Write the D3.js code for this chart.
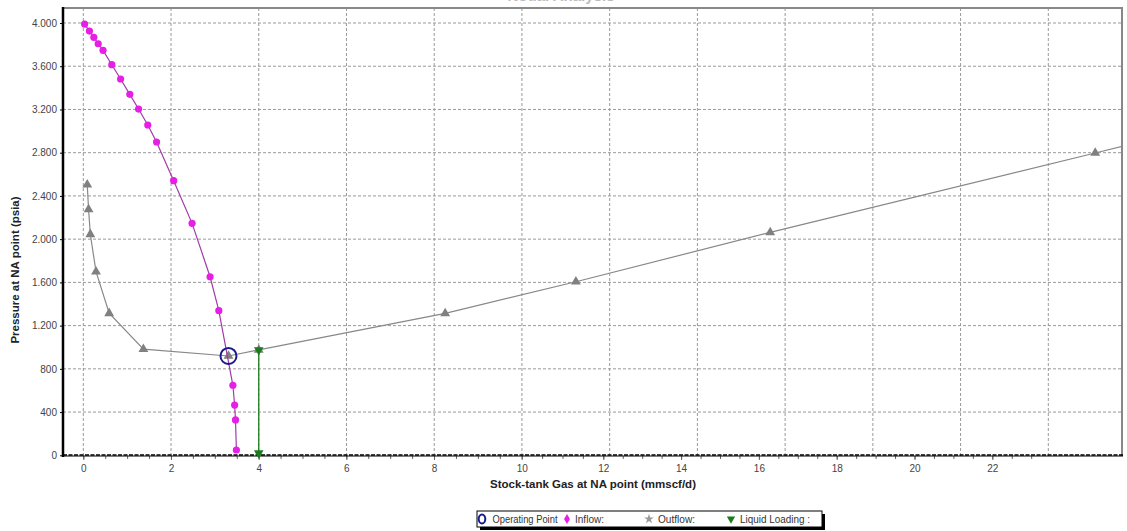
<!DOCTYPE html>
<html><head><meta charset="utf-8">
<script src="https://cdn.jsdelivr.net/npm/d3@7"></script>
<style>body{margin:0;background:#fff}svg{display:block;font-family:"Liberation Sans",Arial,sans-serif}</style>
</head><body><svg id="c" width="1127" height="531"></svg>
<script>
// ---- data ----
const inflowGas = [0.03,0.14,0.24,0.34,0.45,0.65,0.85,1.06,1.26,1.47,1.67,2.06,2.48,2.89,3.09,3.41,3.45,3.47,3.49];
const inflowP   = [3990,3925,3867,3808,3747,3614,3482,3340,3204,3056,2899,2541,2146,1652,1338,648,465,327,49];
const outflowGas = [0.09,0.12,0.16,0.29,0.59,1.37,3.31,4.0,8.25,11.23,15.66,23.07,25.0];
const outflowP   = [2504,2276,2045,1699,1314,983,919,975,1313,1606,2063,2797,2990];
const opGas = [3.31], opP = [919];
const loadGas = [4.0,4.0], loadP = [975,20];
const xTicks = [0,2,4,6,8,10,12,14,16,18,20,22];
const yTicks = [0,400,800,1200,1600,2000,2400,2800,3200,3600,4000];
const legendLabels = ["Operating Point","Inflow:","Outflow:","Liquid Loading :"];

const svg = d3.select("#c");
const L=63, R=1122, T=8, B=456;
const x = d3.scaleLinear().domain([0,22]).range([83.3,1048.3]);
// axis labels in the reference drift from the grid on the right side
const xLab = d3.scaleLinear().domain([0,10,12,22]).range([83.3,521.7,603.3,992.3]);
const y = d3.scaleLinear().domain([0,4000]).range([455.3,23]);
const fmt = d3.formatLocale({decimal:",",thousands:".",grouping:[3],currency:["",""]}).format(",d");

// title (cut off at top, as in the reference)
svg.append("text").attr("x",561).attr("y",1).attr("text-anchor","middle")
  .attr("font-size",15).attr("font-weight","bold").attr("fill","#bbb").text("Nodal Analysis");

// grid
const g = svg.append("g");
g.selectAll(".vg").data(xTicks).join("line").attr("x1",d=>x(d)).attr("x2",d=>x(d))
  .attr("y1",T).attr("y2",B).attr("stroke","#999").attr("stroke-dasharray","3,2");
g.selectAll(".hg").data(yTicks.filter(d=>d>0)).join("line").attr("y1",d=>y(d)).attr("y2",d=>y(d))
  .attr("x1",L).attr("x2",R).attr("stroke","#999").attr("stroke-dasharray","3,2");

// border
svg.append("line").attr("x1",L).attr("x2",R+1).attr("y1",T).attr("y2",T).attr("stroke","#888").attr("stroke-width",2);
svg.append("line").attr("x1",R).attr("x2",R).attr("y1",T).attr("y2",B).attr("stroke","#888").attr("stroke-width",2);

// axes
const xa = svg.append("g").attr("transform",`translate(0,${B})`)
  .call(d3.axisBottom(xLab).tickValues(xTicks).tickSize(4).tickFormat(d3.format("d")));
const xm = svg.append("g").attr("transform",`translate(0,${B})`)
  .call(d3.axisBottom(xLab).tickValues(d3.range(0,23.5,0.5)).tickSize(3).tickFormat(""));
xm.select(".domain").remove();
xa.select(".domain").remove();
xa.selectAll("text").attr("font-size",10).attr("fill","#444").attr("dy","0.9em");
[xa,xm].forEach(a=>a.selectAll("line").attr("stroke","#666"));
const ya = svg.append("g").attr("transform",`translate(${L},0)`)
  .call(d3.axisLeft(y).tickValues(yTicks).tickSize(3).tickFormat(fmt));
ya.select(".domain").remove();
ya.selectAll("text").attr("font-size",10).attr("fill","#444");
svg.append("line").attr("x1",L).attr("x2",L).attr("y1",T-1).attr("y2",B+1).attr("stroke","#000").attr("stroke-width",2.5);
svg.append("line").attr("x1",L).attr("x2",R+1).attr("y1",B).attr("y2",B).attr("stroke","#000").attr("stroke-width",1);
svg.append("line").attr("x1",L).attr("x2",R+1).attr("y1",B-1).attr("y2",B-1).attr("stroke","#000").attr("stroke-width",1.5).attr("stroke-dasharray","4,1.5");

// axis titles
svg.append("text").attr("x",593).attr("y",488).attr("text-anchor","middle").attr("font-size",11.5)
  .attr("font-weight","bold").attr("fill","#222").text("Stock-tank Gas at NA point (mmscf/d)");
svg.append("text").attr("transform","translate(19,270) rotate(-90)").attr("text-anchor","middle").attr("font-size",11.5)
  .attr("font-weight","bold").attr("fill","#222").text("Pressure at NA point (psia)");

// clip
svg.append("clipPath").attr("id","pc").append("rect").attr("x",L).attr("y",T).attr("width",R-L).attr("height",B-T+4);
const p = svg.append("g").attr("clip-path","url(#pc)");
const line = d3.line().x(d=>x(d[0])).y(d=>y(d[1]));

const outD = outflowGas.map((v,i)=>[v,outflowP[i]]);
const inD = inflowGas.map((v,i)=>[v,inflowP[i]]);
const ldD = loadGas.map((v,i)=>[v,loadP[i]]);

p.append("path").attr("d",line(outD)).attr("fill","none").attr("stroke","#888").attr("stroke-width",1.2);
p.selectAll(".ot").data(outD).join("path").attr("transform",d=>`translate(${x(d[0])},${y(d[1])})`)
  .attr("d",d3.symbol(d3.symbolTriangle,42)).attr("fill","#808080");

p.append("path").attr("d",line(inD)).attr("fill","none").attr("stroke","#a03ca8").attr("stroke-width",1.2);
p.selectAll(".id").data(inD).join("circle").attr("cx",d=>x(d[0])).attr("cy",d=>y(d[1])).attr("r",3.6).attr("fill","#e61ee6");

p.append("path").attr("d",line(ldD)).attr("fill","none").attr("stroke","#1c7c1c").attr("stroke-width",1.3);
p.selectAll(".ld").data(ldD).join("path").attr("transform",d=>`translate(${x(d[0])},${y(d[1])}) rotate(180)`)
  .attr("d",d3.symbol(d3.symbolTriangle,40)).attr("fill","#1c7c1c");

p.selectAll(".op").data(opGas).join("circle").attr("cx",d=>x(d)).attr("cy",(d,i)=>y(opP[i])).attr("r",8)
  .attr("fill","none").attr("stroke","#1a1a8a").attr("stroke-width",2);

// legend
const lg = svg.append("g");
lg.append("rect").attr("x",480).attr("y",514).attr("width",345).attr("height",16).attr("fill","#000");
lg.append("rect").attr("x",477).attr("y",511).attr("width",345).attr("height",16).attr("fill","#fff").attr("stroke","#000").attr("stroke-width",1);
const lx = [492.5,575,658,740], lw=[65,29,37,70], ix=[482,567,649,731], ly=519;
lg.selectAll(".lt").data(legendLabels).join("text").attr("x",(d,i)=>lx[i]).attr("y",ly+4).attr("font-size",10.5)
  .attr("textLength",(d,i)=>lw[i]).attr("lengthAdjust","spacingAndGlyphs").attr("fill","#333").text(d=>d);
lg.append("ellipse").attr("cx",ix[0]).attr("cy",ly).attr("rx",3.3).attr("ry",4.5).attr("fill","none").attr("stroke","#1a1a8a").attr("stroke-width",2);
lg.append("path").attr("transform",`translate(${ix[1]},${ly})`).attr("d",d3.symbol(d3.symbolDiamond,30)).attr("fill","#e61ee6");
lg.append("path").attr("transform",`translate(${ix[2]},${ly})`).attr("d",d3.symbol(d3.symbolStar,30)).attr("fill","#999");
lg.append("path").attr("transform",`translate(${ix[3]},${ly}) rotate(180)`).attr("d",d3.symbol(d3.symbolTriangle,30)).attr("fill","#1c7c1c");
</script></body></html>
